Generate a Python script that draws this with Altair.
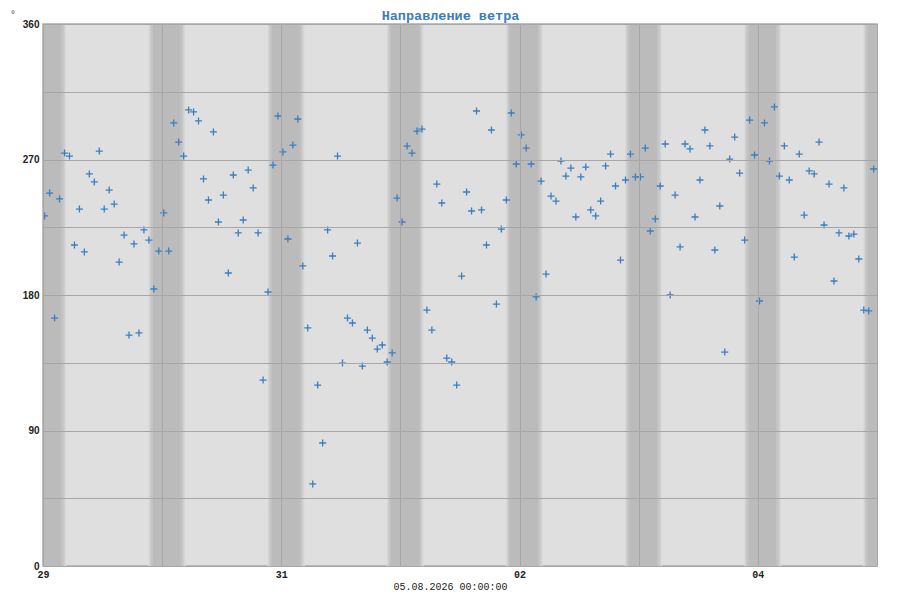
import altair as alt
import pandas as pd

# ---- texts ----
title_text = "Направление ветра"
y_unit = "°"
x_title = "05.08.2026 00:00:00"

# ---- axes ----
x_start = "2026-07-29T00:00:00Z"
x_end = "2026-08-05T00:00:00Z"
day_ticks = ["2026-07-29", "2026-07-30", "2026-07-31", "2026-08-01",
             "2026-08-02", "2026-08-03", "2026-08-04", "2026-08-05"]
labelled_days = ["29", "31", "02", "04"]
y_ticks = [0, 45, 90, 135, 180, 225, 270, 315, 360]
y_labelled = [0, 90, 180, 270, 360]

# ---- observations (hourly, first at 00:20 on 29.07) ----
first_obs = "2026-07-29T00:20:00Z"
direction = [
    232.5, 247.7, 164.7, 243.8, 274.3, 272.3, 213.2, 237.1, 208.6, 260.4,
    255.1, 275.6, 237.1, 249.7, 240.4, 201.9, 219.8, 153.4, 213.9, 154.8,
    223.2, 216.5, 184.0, 209.2, 234.5, 209.2, 294.3, 281.6, 272.3, 302.9,
    301.6, 295.6, 257.1, 243.1, 288.3, 228.5, 246.4, 194.6, 259.7, 221.2,
    229.8, 263.0, 251.1, 221.2, 123.5, 182.0, 266.3, 298.9, 275.0, 217.2,
    279.6, 296.9, 199.3, 158.1, 54.5, 120.2, 81.7, 223.2, 205.9, 272.3,
    134.8, 164.7, 161.4, 214.5, 132.8, 156.7, 151.4, 144.1, 146.8, 135.5,
    141.5, 244.4, 228.5, 278.9, 274.3, 288.9, 290.2, 170.0, 156.7, 253.7,
    241.1, 138.1, 135.5, 120.2, 192.6, 248.4, 235.8, 302.2, 236.5, 213.2,
    289.6, 174.0, 223.8, 243.1, 300.9, 267.0, 286.3, 277.6, 267.0, 178.7,
    255.7, 193.9, 245.7, 242.4, 269.0, 259.0, 264.3, 231.8, 258.4, 265.0,
    236.5, 232.5, 242.4, 265.7, 273.6, 252.4, 203.2, 256.4, 273.6, 258.4,
    258.4, 277.6, 222.5, 230.5, 252.4, 280.3, 180.0, 246.4, 211.9, 280.3,
    277.0, 231.8, 256.4, 289.6, 279.0, 209.9, 239.1, 142.1, 270.3, 284.9,
    261.0, 216.5, 296.2, 273.0, 176.0, 294.3, 269.0, 304.9, 259.0, 279.0,
    256.4, 205.2, 273.6, 233.1, 262.4, 260.4, 281.6, 226.5, 253.7, 189.3,
    221.2, 251.1, 219.2, 220.5, 203.9, 170.0, 169.4, 263.7,
]

# ---- night shading (evening date of each night) ----
night_dates = ["2026-07-28", "2026-07-29", "2026-07-30", "2026-07-31",
               "2026-08-01", "2026-08-02", "2026-08-03", "2026-08-04"]
dusk_begin = "21:10"
dark_begin = "22:05"
dark_finish = "03:45"
dawn_finish = "04:45"

# ---- colours ----
day_col = "#dfdfdf"
night_col = "#bbbbbb"
grid_col = "#a6a6a6"
point_col = "#3b7ec0"
title_col = "#3a7dbd"

FMT = "%Y-%m-%dT%H:%M:%SZ"


def ms(s):
    return int(pd.Timestamp(s).value // 10**6)


times = pd.date_range(first_obs, periods=len(direction), freq="h")
obs = pd.DataFrame({"t": times.strftime(FMT), "v": direction})

dusk_rows, dark_rows, dawn_rows = [], [], []
for d in night_dates:
    d0 = pd.Timestamp(d + "T00:00:00Z")
    d1 = d0 + pd.Timedelta(days=1)
    a = (d0 + pd.Timedelta(dusk_begin + ":00")).strftime(FMT)
    b = (d0 + pd.Timedelta(dark_begin + ":00")).strftime(FMT)
    c = (d1 + pd.Timedelta(dark_finish + ":00")).strftime(FMT)
    e = (d1 + pd.Timedelta(dawn_finish + ":00")).strftime(FMT)
    dusk_rows.append({"s": a, "e": b})
    dark_rows.append({"s": b, "e": c})
    dawn_rows.append({"s": c, "e": e})

labels_js = "[" + ",".join("'" + s + "'" for s in labelled_days) + "]"
ylab_js = "[" + ",".join(str(v) for v in y_labelled) + "]"

x_scale = alt.Scale(type="utc", domain=[ms(x_start), ms(x_end)])
y_scale = alt.Scale(domain=[0, 360], nice=False, zero=False)

x_axis = alt.Axis(
    values=[ms(d + "T00:00:00Z") for d in day_ticks],
    labelExpr=f"indexof({labels_js}, utcFormat(datum.value, '%d')) >= 0 ? utcFormat(datum.value, '%d') : ''",
    grid=True, gridColor=grid_col, gridWidth=1,
    ticks=False, domain=False,
    labelFont="Liberation Mono", labelFontSize=10, labelFontWeight="bold",
    labelColor="#222222", labelPadding=3, labelFlush=False,
    title=x_title, titleFont="Liberation Mono", titleFontSize=10,
    titleFontWeight="normal", titleColor="#222222",
    titleX=407, titleY=20, titleAlign="center", titleBaseline="middle",
    zindex=1,
)
# the chart heading is carried by the y axis title, placed above the plot
y_axis = alt.Axis(
    values=y_ticks,
    labelExpr=f"indexof({ylab_js}, datum.value) >= 0 ? datum.label : ''",
    grid=True, gridColor=grid_col, gridWidth=1,
    ticks=False, domain=False,
    labelFont="Liberation Sans", labelFontSize=10, labelFontWeight="bold",
    labelColor="#222222", labelPadding=4,
    title=title_text, titleAngle=0, titleFont="Liberation Mono",
    titleFontSize=13.5, titleFontWeight="bold", titleColor=title_col,
    titleX=407, titleY=-5, titleAlign="center", titleBaseline="alphabetic",
    zindex=1,
)

grad_in = {"gradient": "linear", "x1": 0, "x2": 1, "y1": 0, "y2": 0,
           "stops": [{"offset": 0, "color": day_col}, {"offset": 1, "color": night_col}]}
grad_out = {"gradient": "linear", "x1": 0, "x2": 1, "y1": 0, "y2": 0,
            "stops": [{"offset": 0, "color": night_col}, {"offset": 1, "color": day_col}]}


def band(rows, fill):
    return alt.Chart(pd.DataFrame(rows)).mark_rect(fill=fill, clip=True).encode(
        x=alt.X("s:T", scale=x_scale, axis=x_axis),
        x2="e:T",
        y=alt.datum(0, scale=y_scale, axis=y_axis),
        y2=alt.datum(360),
    )


points = alt.Chart(obs).mark_point(
    shape="M-1,0L1,0M0,-1L0,1", size=49, filled=False,
    strokeWidth=1.3, color=point_col, opacity=1, clip=True,
).encode(
    x=alt.X("t:T", scale=x_scale, axis=x_axis),
    y=alt.Y("v:Q", scale=y_scale, axis=y_axis),
)

unit = alt.Chart(pd.DataFrame({"u": [y_unit]})).mark_text(
    font="Liberation Sans", fontSize=10, color="#444444",
    align="center", baseline="alphabetic",
).encode(text="u:N", x=alt.value(-30), y=alt.value(-6))

chart = alt.layer(
    band(dusk_rows, grad_in),
    band(dark_rows, night_col),
    band(dawn_rows, grad_out),
    points,
    unit,
).properties(
    width=834, height=542,
    autosize="none",
    padding={"left": 35, "top": 16, "right": 15, "bottom": 26},
).configure_view(
    fill=day_col, stroke="#aaaaaa", strokeWidth=1.5,
)

chart.save("out.html", embed_options={"renderer": "svg", "actions": False})
